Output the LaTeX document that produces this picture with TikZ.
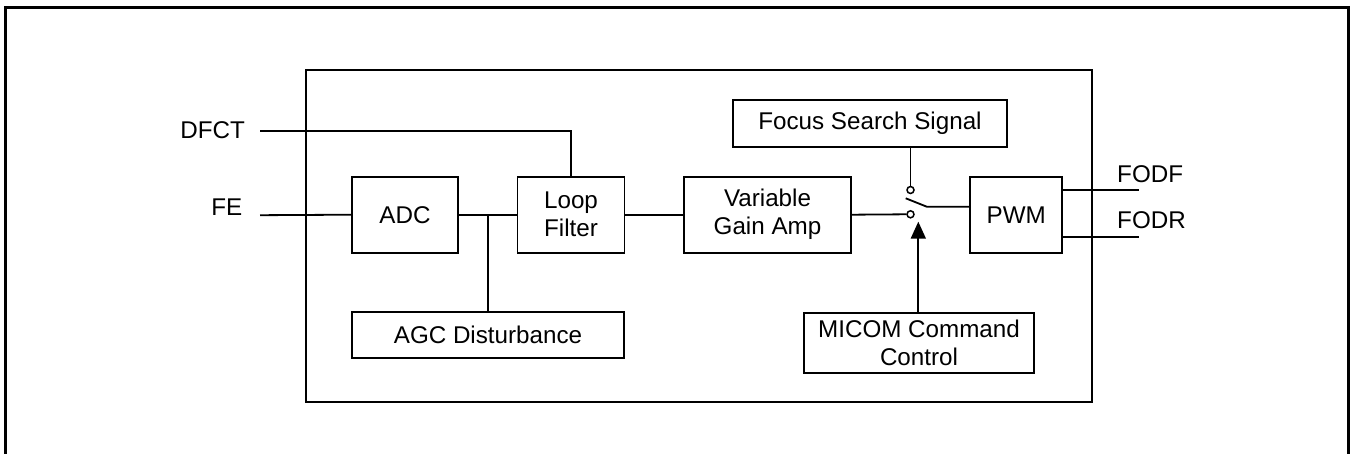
\documentclass[tikz,border=0pt]{standalone}
\usepackage{fontspec}
\setmainfont{Liberation Sans}
\usetikzlibrary{arrows.meta}
\begin{document}
\begin{tikzpicture}[x=1pt,y=-1pt,
  wire/.style={line width=1.8pt},
  blk/.style={draw,line width=1.8pt,rectangle,inner sep=0pt,align=center,
    font=\fontsize{24.2}{28}\selectfont},
  lbl/.style={inner sep=0pt,font=\fontsize{24.2}{28}\selectfont},
  contact/.style={circle,draw,line width=1.5pt,fill=white,minimum size=7pt,inner sep=0pt}]
\useasboundingbox (0,0) rectangle (1356,454);
% page frame (open at the bottom)
\draw[line width=3.2pt] (5.6,470) -- (5.6,7.6) -- (1348.2,7.6) -- (1348.2,470);
% enclosure
\draw[line width=1.8pt] (305.7,70) rectangle (1092,402);

% blocks
\node[blk,minimum width=106pt,minimum height=76pt] (adc) at (405,214.7) {ADC};
\node[blk,minimum width=107pt,minimum height=76pt] (lf) at (571,214.7) {Loop\\Filter};
\node[blk,minimum width=272pt,minimum height=46pt] (agc) at (488,335) {AGC Disturbance};
\node[blk,minimum width=167pt,minimum height=76pt] (vga) at (767.5,214.7) {Variable\\Gain Amp};
\node[blk,minimum width=92pt,minimum height=76pt] (pwm) at (1016.3,214.7) {PWM};
\node[blk,minimum width=274pt,minimum height=47pt] (fss) at (870,123.5) {Focus Search Signal};
\node[blk,minimum width=230pt,minimum height=60pt] (mic) at (919,343) {MICOM Command\\Control};

% switch contacts
\node[contact] (up) at (910.5,190) {};
\node[contact] (lo) at (910.5,214.3) {};
\coordinate (bl) at (905.7,198.3);
\coordinate (pv) at (926.7,206.7);

% signal labels and free ends
\node[lbl,anchor=base east] (dfct) at (245,139) {DFCT};
\node[lbl,anchor=base east] (fe) at (242.5,215.7) {FE};
\node[lbl,anchor=base west] (fodf) at (1117,182.3) {FODF};
\node[lbl,anchor=base west] (fodr) at (1117,228.3) {FODR};
\coordinate (dfctin) at (260,131.2);
\coordinate (fein) at (260,215.2);
\coordinate (fodfout) at (1139,190);
\coordinate (fodrout) at (1139,236.7);
\coordinate (jn) at (488.3,214.7);

% connections
\draw[wire] (dfctin) -| (lf.north);
\draw[wire] (fein) -- (adc.west);
\draw[wire] (adc.east) -- (lf.west);
\draw[wire] (jn) -- (jn |- agc.north);
\draw[wire] (lf.east) -- (vga.west);
\draw[wire] (vga.east) -- (lo.west);
\draw[wire] (fss.south -| up) -- (up.north);
\draw[wire] (bl) -- (pv) -- (pv -| pwm.west);
\draw[wire] (pwm.east |- fodfout) -- (fodfout);
\draw[wire] (pwm.east |- fodrout) -- (fodrout);
\draw[wire,-{Triangle[width=15pt,length=17pt]}] (mic.north -| 918.3,0) -- (918.3,221.7);
\end{tikzpicture}
\end{document}
